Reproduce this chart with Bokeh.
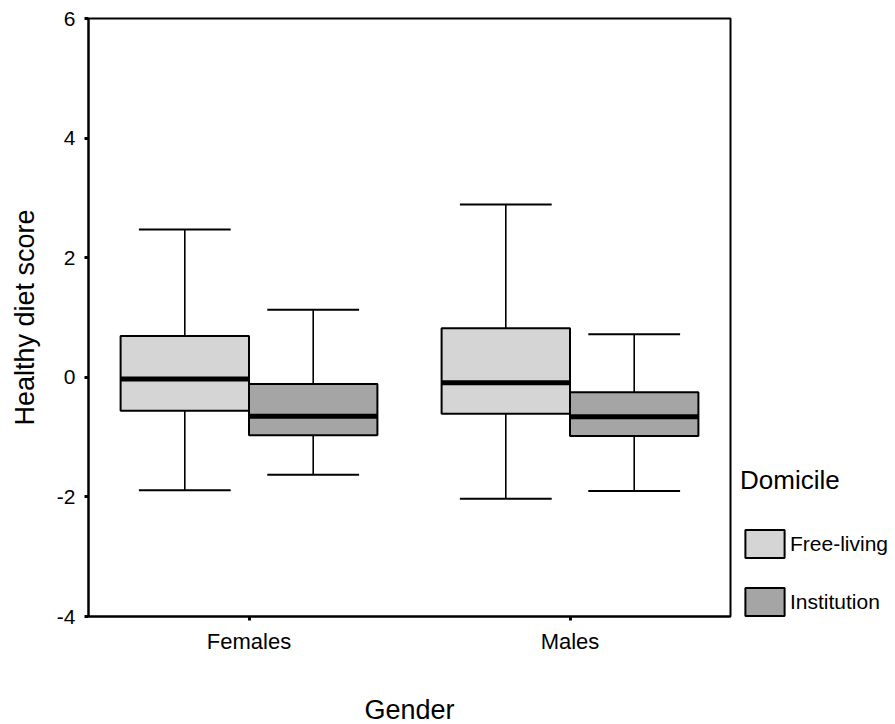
from bokeh.plotting import figure
from bokeh.models import (ColumnDataSource, FactorRange, Range1d, FixedTicker, Legend, LegendItem,
                          PrintfTickFormatter)
from bokeh.transform import dodge
from bokeh.embed import file_html
from bokeh.resources import INLINE

# Categories
genders = ["Females", "Males"]
domiciles = ["Free-living", "Institution"]

# Box-plot summaries (whisker low, Q1, median, Q3, whisker high) per gender
free_lower = [-1.89, -2.03]
free_q1 = [-0.56, -0.61]
free_median = [-0.03, -0.09]
free_q3 = [0.69, 0.82]
free_upper = [2.47, 2.89]

inst_lower = [-1.63, -1.90]
inst_q1 = [-0.97, -0.98]
inst_median = [-0.65, -0.66]
inst_q3 = [-0.11, -0.25]
inst_upper = [1.13, 0.72]

y_ticks = [-4, -2, 0, 2, 4, 6]

FONT = "Liberation Sans"
fill_colors = {"Free-living": "#d5d5d5", "Institution": "#a5a5a5"}
offsets = {"Free-living": -0.2, "Institution": 0.2}
BOX_W = 0.4
CAP_HALF = 0.143

p = figure(
    frame_width=642, frame_height=598,
    x_range=FactorRange(factors=genders, range_padding=0),
    y_range=Range1d(-4, 6),
    output_backend="svg", toolbar_location=None,
    min_border_left=88, min_border_right=165,
    min_border_top=18, min_border_bottom=108,
)
p.xgrid.visible = False
p.ygrid.visible = False
p.background_fill_color = "white"
p.border_fill_color = "white"
p.outline_line_color = "black"
p.outline_line_width = 2

groups = {
    "Free-living": dict(lower=free_lower, q1=free_q1, median=free_median, q3=free_q3, upper=free_upper),
    "Institution": dict(lower=inst_lower, q1=inst_q1, median=inst_median, q3=inst_q3, upper=inst_upper),
}

legend_items = []
for name in domiciles:
    g = groups[name]
    src = ColumnDataSource(dict(gender=genders, **g))
    off = offsets[name]
    xc = dodge("gender", off, range=p.x_range)
    # whisker stems
    p.segment(x0=xc, x1=xc, y0="q3", y1="upper", source=src, line_color="black", line_width=1.6)
    p.segment(x0=xc, x1=xc, y0="q1", y1="lower", source=src, line_color="black", line_width=1.6)
    # whisker caps
    xl = dodge("gender", off - CAP_HALF, range=p.x_range)
    xr = dodge("gender", off + CAP_HALF, range=p.x_range)
    p.segment(x0=xl, x1=xr, y0="upper", y1="upper", source=src, line_color="black", line_width=2)
    p.segment(x0=xl, x1=xr, y0="lower", y1="lower", source=src, line_color="black", line_width=2)
    # interquartile box
    box = p.vbar(x=xc, width=BOX_W, bottom="q1", top="q3", source=src,
                 fill_color=fill_colors[name], line_color="black", line_width=2)
    # median bar
    ml = dodge("gender", off - BOX_W / 2, range=p.x_range)
    mr = dodge("gender", off + BOX_W / 2, range=p.x_range)
    p.segment(x0=ml, x1=mr, y0="median", y1="median", source=src, line_color="black", line_width=5)
    legend_items.append(LegendItem(label=name, renderers=[box]))

# Axes
p.yaxis.ticker = FixedTicker(ticks=y_ticks)
p.yaxis.formatter = PrintfTickFormatter(format="%d")
p.yaxis.axis_label = "Healthy diet score"
p.xaxis.axis_label = "Gender"
for ax in (p.xaxis[0], p.yaxis[0]):
    ax.axis_line_color = "black"
    ax.axis_line_width = 2
    ax.major_tick_line_color = "black"
    ax.major_tick_line_width = 3
    ax.major_tick_in = 0
    ax.major_tick_out = 4
    ax.minor_tick_line_color = None
    ax.major_label_text_font = FONT
    ax.major_label_text_font_size = "21px"
    ax.major_label_text_color = "black"
    ax.axis_label_text_font = FONT
    ax.axis_label_text_font_size = "27px"
    ax.axis_label_text_font_style = "normal"
    ax.axis_label_text_color = "black"
p.xaxis.major_label_text_font_size = "22px"
p.yaxis.major_label_standoff = 9
p.yaxis.axis_label_standoff = 14
p.xaxis.major_label_standoff = 8
p.xaxis.axis_label_standoff = 38

legend = Legend(
    items=legend_items,
    title="Domicile",
    location=(10, -3),
    orientation="vertical",
    glyph_width=49, glyph_height=35,
    spacing=23,
    title_standoff=30,
    label_text_font=FONT, label_text_font_size="21px", label_text_color="black",
    title_text_font=FONT, title_text_font_size="26px", title_text_font_style="normal",
    title_text_color="black",
    label_standoff=1,
    border_line_color=None,
    background_fill_alpha=0,
    margin=0, padding=0,
)
p.add_layout(legend, "right")

open("out.html", "w").write(file_html(p, INLINE))
